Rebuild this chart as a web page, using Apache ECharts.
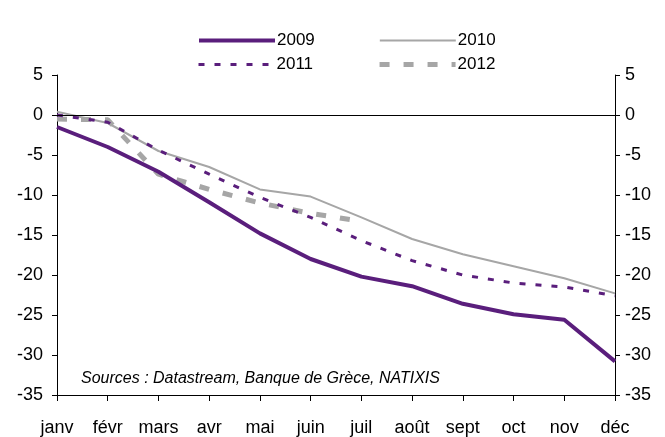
<!DOCTYPE html>
<html>
<head>
<meta charset="utf-8">
<script src="https://cdn.jsdelivr.net/npm/echarts@6/dist/echarts.min.js"></script>
<style>
html,body{margin:0;padding:0;background:#fff;}
#chart{width:665px;height:437px;}
</style>
</head>
<body>
<div id="chart"></div>
<script>
var months = ['janv','févr','mars','avr','mai','juin','juil','août','sept','oct','nov','déc'];
var s2009 = [-1.5,-4.0,-7.1,-10.9,-14.8,-18.0,-20.2,-21.4,-23.6,-24.9,-25.6,-30.8];
var s2010 = [0.4,-1.0,-4.5,-6.5,-9.3,-10.2,-12.8,-15.5,-17.4,-18.9,-20.4,-22.3];
var s2011 = [0.0,-0.9,-4.4,-7.4,-10.3,-12.8,-15.7,-18.2,-20.0,-21.0,-21.5,-22.6];
var s2012 = [-0.5,-0.6,-7.4,-9.3,-11.0,-12.3,-13.3];
var yTicks = {min:-35, max:5, interval:5};
var sourceText = 'Sources : Datastream, Banque de Grèce, NATIXIS';

var purple = '#5a1e7c';
var grey = '#a6a6a6';
var font = 'Liberation Sans, Arial, sans-serif';

var chart = echarts.init(document.getElementById('chart'));
var legendText = {fontSize:17, color:'#000', fontFamily:font, padding:[0,0,0,-3]};
function leg(name, color, width, type) {
  return {name:name, itemStyle:{opacity:0}, lineStyle:{color:color, width:width, type:type}};
}
chart.setOption({
  animation:false,
  backgroundColor:'#fff',
  textStyle:{fontFamily:font},
  grid:{left:57, right:50, top:75, bottom:42, containLabel:false},
  legend:[
    {data:[leg('2009', purple, 4, 'solid'), leg('2010', grey, 2, 'solid')],
     top:27, left:192, itemWidth:76, itemHeight:12, itemGap:64, textStyle:legendText},
    {data:[leg('2011', purple, 3, [6,10]), leg('2012', grey, 5, [10,14])],
     top:51, left:192, itemWidth:76, itemHeight:12, itemGap:64, textStyle:legendText}
  ],
  xAxis:{
    type:'category', data:months, boundaryGap:false,
    axisLine:{onZero:false, lineStyle:{color:'#000', width:1}},
    axisTick:{show:true, alignWithLabel:true, length:6, lineStyle:{color:'#000'}},
    axisLabel:{color:'#000', fontSize:18, margin:24, interval:0, fontFamily:font},
    splitLine:{show:false}
  },
  yAxis:[
    {type:'value', min:yTicks.min, max:yTicks.max, interval:yTicks.interval, position:'left',
     axisLine:{show:true, lineStyle:{color:'#000'}},
     axisTick:{show:true, length:5, lineStyle:{color:'#000'}},
     axisLabel:{color:'#000', fontSize:18, margin:14, fontFamily:font},
     splitLine:{show:false}},
    {type:'value', min:yTicks.min, max:yTicks.max, interval:yTicks.interval, position:'right',
     axisLine:{show:true, lineStyle:{color:'#000'}},
     axisTick:{show:true, length:5, lineStyle:{color:'#000'}},
     axisLabel:{color:'#000', fontSize:18, margin:10, fontFamily:font},
     splitLine:{show:false}}
  ],
  series:[
    {name:'2009', type:'line', data:s2009, symbol:'none', z:5,
     lineStyle:{color:purple, width:4}, itemStyle:{color:purple},
     markLine:{silent:true, symbol:'none', label:{show:false},
       lineStyle:{color:'#000', width:1, type:'solid'}, data:[{yAxis:0}]}},
    {name:'2010', type:'line', data:s2010, symbol:'none', z:3,
     lineStyle:{color:grey, width:2}, itemStyle:{color:grey}},
    {name:'2011', type:'line', data:s2011, symbol:'none', z:4,
     lineStyle:{color:purple, width:3, type:[6,10]}, itemStyle:{color:purple}},
    {name:'2012', type:'line', data:s2012, symbol:'none', z:2,
     lineStyle:{color:grey, width:5, type:[10,14]}, itemStyle:{color:grey}}
  ],
  graphic:[
    {type:'text', left:81, top:371, style:{text:sourceText, fill:'#000', font:'italic 16px Liberation Sans, Arial, sans-serif'}}
  ]
});
</script>
</body>
</html>
